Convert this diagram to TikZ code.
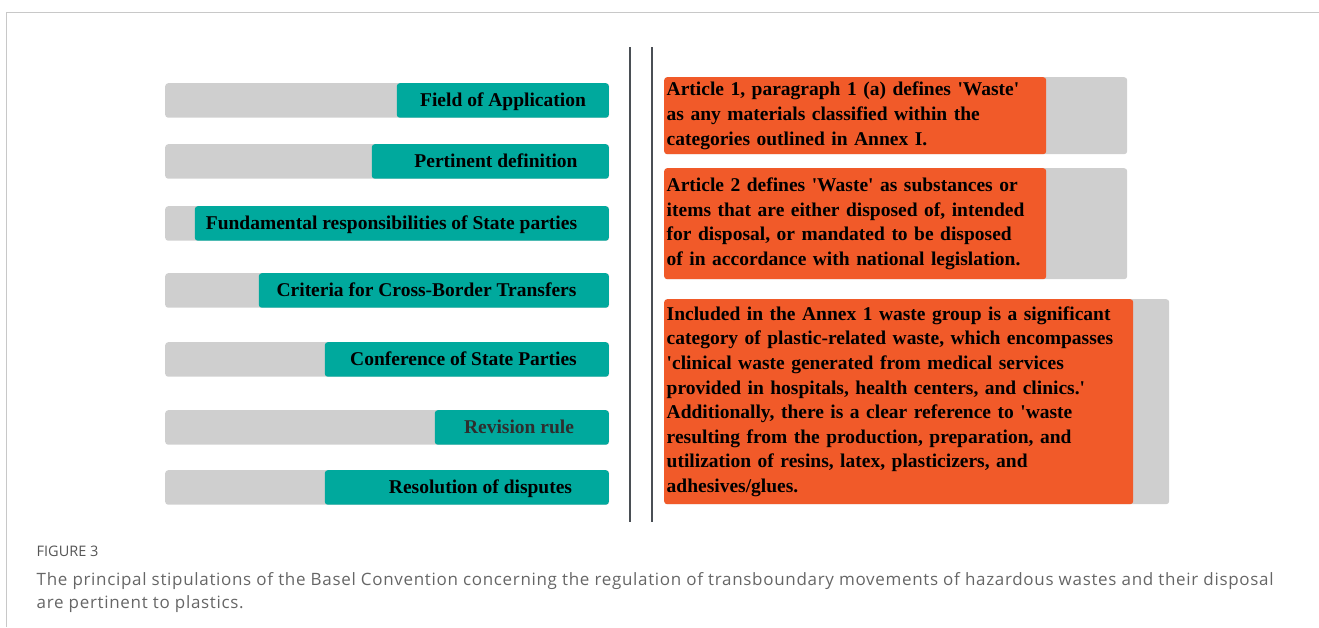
\documentclass[tikz,border=0pt]{standalone}
\usepackage{fontspec}
\newfontfamily\tnr{Liberation Serif}[Ligatures=TeXOff]
\newfontfamily\capf{Open Sans}[LetterSpace=4]
\newfontfamily\capg{Open Sans}
\definecolor{barg}{HTML}{CFCFCF}
\definecolor{tealc}{HTML}{00A99D}
\definecolor{orangec}{HTML}{F15A29}
\definecolor{divc}{HTML}{4A4F55}
\definecolor{framec}{HTML}{C8C8C8}
\definecolor{capc}{HTML}{666666}
\definecolor{figc}{HTML}{555555}
\definecolor{revc}{HTML}{2E2E2E}
\begin{document}
\begin{tikzpicture}[x=1pt,y=-1pt,
  graybar/.style={fill=barg, rounded corners=3pt, inner sep=0pt, minimum height=34.5pt, anchor=north west},
  tealbar/.style={fill=tealc, rounded corners=3pt, inner sep=0pt, minimum height=34.5pt, anchor=north east},
  lab/.style={font=\tnr\bfseries\fontsize{19.5}{23}\selectfont, text=black, inner sep=0pt, anchor=base},
  obox/.style={fill=orangec, rounded corners=3pt, inner xsep=2.5pt, inner ysep=0pt, anchor=north west,
    align=left, font=\tnr\bfseries\fontsize{19.5}{24.6}\selectfont, text=black},
  divider/.style={draw=divc, line width=2pt},
  captxt/.style={anchor=base west, inner sep=0pt, text=capc}
]
\useasboundingbox (0,0) rectangle (1319,627);
% frame
\draw[framec, line width=1pt] (1319,12.5) -- (6.5,12.5) -- (6.5,627);

% left bars
\node[graybar, minimum width=444pt] (g1) at (165,83) {};
\node[tealbar, minimum width=212pt] (t1) at (609,83) {};
\node[lab] (l1) at (503,106.2) {Field of Application};

\node[graybar, minimum width=444pt] (g2) at (165,144) {};
\node[tealbar, minimum width=237pt] (t2) at (609,144) {};
\node[lab] (l2) at (496,167.7) {Pertinent definition};

\node[graybar, minimum width=444pt] (g3) at (165,206) {};
\node[tealbar, minimum width=414pt] (t3) at (609,206) {};
\node[lab] (l3) at (391.5,229.7) {Fundamental responsibilities of State parties};

\node[graybar, minimum width=444pt] (g4) at (165,273) {};
\node[tealbar, minimum width=350pt] (t4) at (609,273) {};
\node[lab] (l4) at (426.5,296.7) {Criteria for Cross-Border Transfers};

\node[graybar, minimum width=444pt] (g5) at (165,342) {};
\node[tealbar, minimum width=284pt] (t5) at (609,342) {};
\node[lab] (l5) at (463.5,365.2) {Conference of State Parties};

\node[graybar, minimum width=444pt] (g6) at (165,410) {};
\node[tealbar, minimum width=174pt] (t6) at (609,410) {};
\node[lab, text=revc] (l6) at (519,433.7) {Revision rule};

\node[graybar, minimum width=444pt] (g7) at (165,470) {};
\node[tealbar, minimum width=284pt] (t7) at (609,470) {};
\node[lab] (l7) at (480.5,493.2) {Resolution of disputes};

% dividers
\coordinate (d1a) at (630,47);
\coordinate (d1b) at (630,522);
\coordinate (d2a) at (652,47);
\coordinate (d2b) at (652,522);
\draw[divider] (d1a) -- (d1b);
\draw[divider] (d2a) -- (d2b);

% right boxes
\node[graybar, minimum width=463pt, minimum height=77pt] (rg1) at (664,77) {};
\node[obox, minimum width=382pt, minimum height=77pt, text width=377pt] (o1) at (664,77)
 {Article 1, paragraph 1 (a) defines 'Waste'\\as any materials classified within the\\categories outlined in Annex I.};

\node[graybar, minimum width=463pt, minimum height=111pt] (rg2) at (664,168) {};
\node[obox, minimum width=382pt, minimum height=111pt, text width=377pt] (o2) at (664,168)
 {Article 2 defines 'Waste' as substances or\\items that are either disposed of, intended\\for disposal, or mandated to be disposed\\of in accordance with national legislation.};

\node[graybar, minimum width=505pt, minimum height=205pt] (rg3) at (664,299) {};
\node[obox, minimum width=469pt, minimum height=205pt, text width=464pt] (o3) at (664,299)
 {Included in the Annex 1 waste group is a significant\\category of plastic-related waste, which encompasses\\'clinical waste generated from medical services\\provided in hospitals, health centers, and clinics.'\\Additionally, there is a clear reference to 'waste\\resulting from the production, preparation, and\\utilization of resins, latex, plasticizers, and\\adhesives/glues.};

% caption
\node[captxt, text=figc, font=\capg\fontsize{14.5}{16}\selectfont] (fig) at (36.5,556.7) {FIGURE 3};
\node[captxt, align=left, font=\capf\fontsize{17}{23.3}\selectfont] (cap) at (36.5,608.3)
 {The principal stipulations of the Basel Convention concerning the regulation of transboundary movements of hazardous wastes and their disposal\\are pertinent to plastics.};
\end{tikzpicture}
\end{document}
